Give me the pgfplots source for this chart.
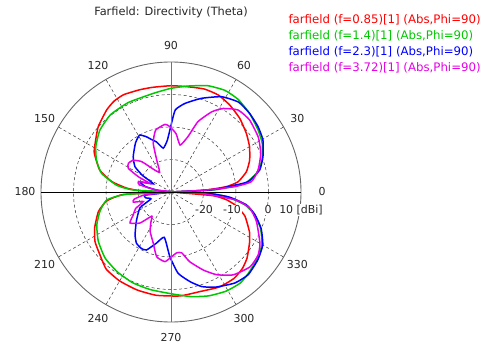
\documentclass[border=0pt]{standalone}
\usepackage{pgfplots}
\pgfplotsset{compat=1.18}
\usepgfplotslibrary{polar}
\usepackage{pgfplotstable}
\usepackage{fontspec}
\setmainfont{DejaVu Sans}

\definecolor{cred}{RGB}{255,0,0}
\definecolor{cgreen}{RGB}{0,200,0}
\definecolor{cblue}{RGB}{0,0,255}
\definecolor{cmag}{RGB}{230,0,230}

% angle [deg], directivity [dBi]
\pgfplotstableread{
a d
0 -30
3 -20
5.5 -12.9
8.7 -9.1
15 -6
22 -3.9
30 -2.1
38 -0.6
47 1.0
56 2.3
64 3.2
72 3.3
81 2.8
90 2.7
100 2.7
107 2.9
116 3.3
122 3.0
128 2.1
138 0.1
147 -2.2
153 -3.5
163 -7.1
170 -11.5
175 -16.3
178 -21
180 -30
183 -15.3
188 -10
195 -6.9
205 -4.1
213 -2.1
221 -0.9
230 1.0
240 1.6
251 1.9
262 2.1
275 2.1
286 1.9
297 2.8
306 2.9
313 2.2
319 1.0
327 -1.2
333 -2.9
342 -6.1
348 -9.5
352 -12.7
355 -17
360 -30
}\tred

\pgfplotstableread{
a d
0 -30
3 -16
6.7 -7.2
12.4 -3.1
19.4 -0.3
28 1.8
35.5 2.9
45 4.2
54 5.2
62 5.4
71 4.6
81 3.0
90 1.9
98 1.0
106 0.5
116 0.5
128 0.2
139 -1.0
149 -3.0
157 -5.1
165 -7.9
173 -13.2
177 -18.4
180 -30
183 -16
187 -10.1
195 -7.4
204 -5.0
214 -3.0
225 -1.3
236 -0.4
247 0.3
258 0.7
271 1.4
281 2.8
290 4.0
299 4.9
307 5.2
313 4.6
322 3.6
330 2.3
338 -0.3
345 -3.5
350 -6.8
355 -12.5
358 -18
360 -30
}\tgreen

\pgfplotstableread{
a d
0 -30
3 -17.6
5.3 -12.4
7.6 -6.1
13.9 -1.9
21 0.3
29.5 2.5
37 3.5
45 4.2
53 4.6
62 3.2
72 0.3
81 -2.4
87 -4.7
90 -9.5
94 -14
100 -16.3
106 -14
110 -12.9
114 -11.4
119 -10
126 -11.4
137 -14.1
145 -16.5
150 -20
155 -24
162 -20
168 -22
173 -26
180 -30
187 -22
193 -22
199 -23.5
207 -19.3
220 -16.1
230 -12.8
236 -11
242 -10.4
247 -10.6
254 -13.6
261.6 -15.9
269 -10.1
275 -4.9
282 -1.8
288 0.6
295 2.3
305 4.2
313 4.8
322 3.9
330 2.6
338 -0.1
345 -3.3
350.4 -6.5
355 -12
358 -19
360 -30
}\tblue

\pgfplotstableread{
a d
0 -30
3 -20
4.8 -10.3
7.3 -5.1
14 -2.4
23 0
32 1.7
42.5 2.8
50.7 2.6
58 0.3
63 -2.3
69 -6.8
73 -12.2
79 -15.3
85 -12
91 -9.9
95 -9.1
104 -10.4
110 -14
114 -19.2
120 -23
128 -21
134 -17
140 -14.8
146 -14.2
151 -15
155 -19
158 -23
162 -19.5
167 -20
172 -25
180 -30
186 -22
191 -18.5
195 -18
199 -21
205 -18
211 -16.5
217 -14.2
225 -16.5
231.5 -20.5
236 -19
242 -16.3
251 -13.3
257.5 -9.6
265 -8.5
270.6 -10.1
275.4 -11.2
280 -11
285 -7.8
292.5 -4
299 -0.9
307 1.9
316.6 3.5
324 3.1
330 1.6
341 -2.2
348.5 -5.3
353 -10
357 -20
360 -30
}\tmag

\begin{document}
\begin{tikzpicture}[font=\fontsize{11}{13}\selectfont]
\begin{polaraxis}[
  scale only axis, width=260bp, height=260bp,
  xmin=0, xmax=360, ymin=0, ymax=40,
  xtick={30,60,120,150,210,240,300,330},
  ytick={10,20,30},
  xticklabels={}, yticklabels={},
  major tick length=0pt,
  grid=major,
  major grid style={black!80, line width=0.5pt, dash pattern=on 3bp off 2.5bp},
  axis line style={black!60, line width=0.9pt},
  clip=false,
  every axis plot/.append style={line width=1.5bp, smooth, tension=0.3},
]
\coordinate (C) at (axis cs:0,0);
\addplot[cred] table[x=a, y expr=\thisrow{d}+30] {\tred};
\addplot[cgreen] table[x=a, y expr=\thisrow{d}+30] {\tgreen};
\addplot[cblue] table[x=a, y expr=\thisrow{d}+30] {\tblue};
\addplot[cmag] table[x=a, y expr=\thisrow{d}+30] {\tmag};
\draw[black!55, line width=0.9pt] (axis cs:90,40) -- (axis cs:270,40);
\draw[black, line width=0.9pt] (axis cs:0,40) -- (axis cs:180,40);
\end{polaraxis}
\path[use as bounding box] (C) ++(-171bp,192bp) rectangle ++(495bp,-344bp);
% title
\path (C) ++(0bp,179.3bp) node[text=black!85, font=\fontsize{11.4}{13}\selectfont] {Farfield: Directivity (Theta)};
% angle labels
\foreach \ang in {30,60,...,330} {
  \path (C) ++(\ang:146bp) node[text=black!85] {\ang};
}
\path (C) ++(0:151bp) node[text=black!85] {0};
% radial labels
\path (C) ++(33bp,-18bp) node[fill=white, inner sep=0.8pt, text=black!85] {-20};
\path (C) ++(61bp,-18bp) node[fill=white, inner sep=0.8pt, text=black!85] {-10};
\path (C) ++(97bp,-18bp) node[fill=white, inner sep=0.8pt, text=black!85] {0};
\path (C) ++(130bp,-18bp) node[fill=white, inner sep=0.8pt, text=black!85] {10 [dBi]};
% legend
\begin{scope}[every node/.style={anchor=west, inner sep=0pt, font=\fontsize{11.8}{13}\selectfont}]
\path (C) ++(117.3bp,172bp) node[text=cred] {farfield (f=0.85)[1] (Abs,Phi=90)};
\path (C) ++(117.3bp,156.5bp) node[text=cgreen] {farfield (f=1.4)[1] (Abs,Phi=90)};
\path (C) ++(117.3bp,140.3bp) node[text=cblue] {farfield (f=2.3)[1] (Abs,Phi=90)};
\path (C) ++(117.3bp,123.7bp) node[text=cmag] {farfield (f=3.72)[1] (Abs,Phi=90)};
\end{scope}
\end{tikzpicture}
\end{document}
